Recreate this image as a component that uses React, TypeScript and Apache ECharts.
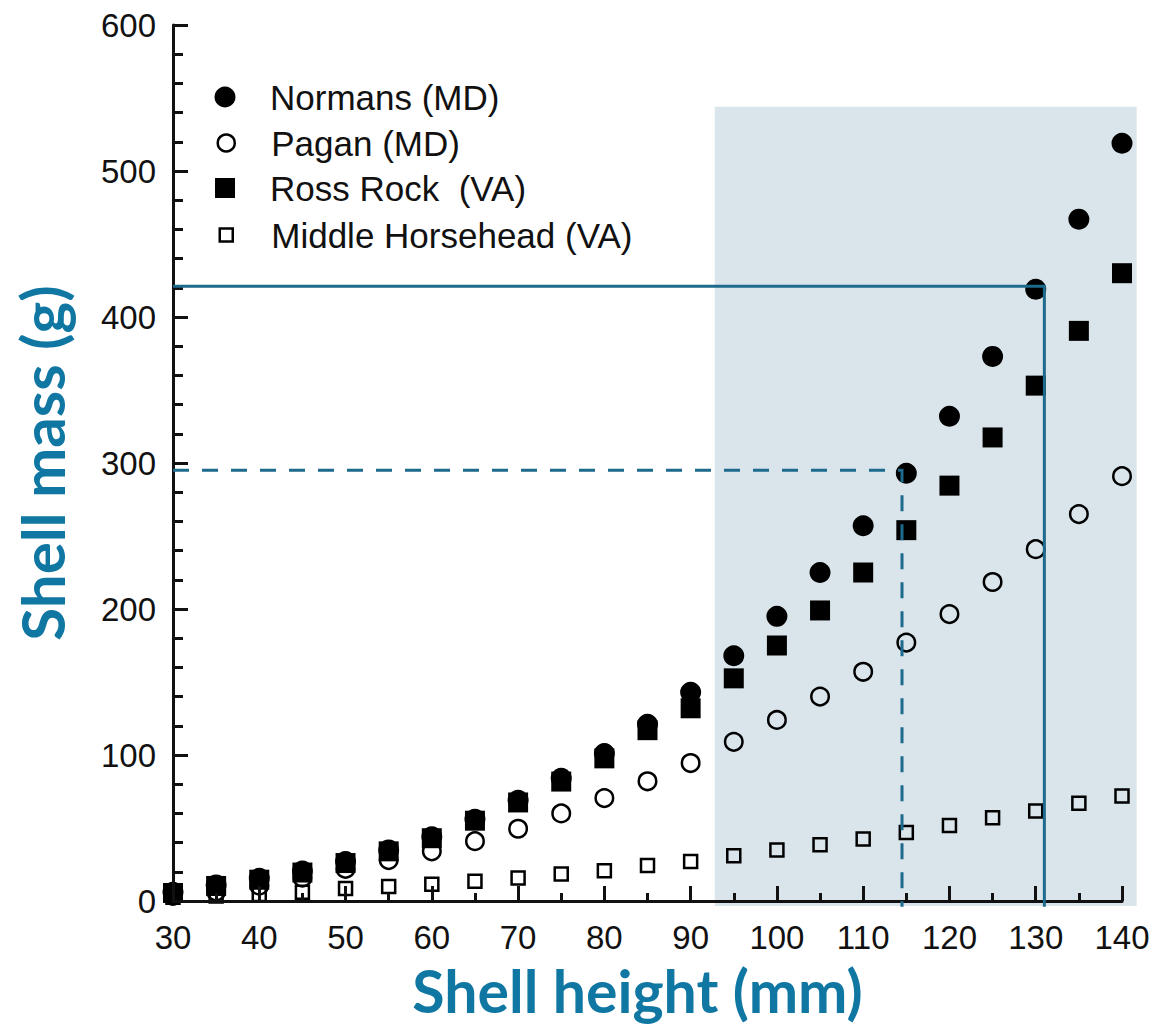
import React, { useEffect, useRef } from "react";
import * as echarts from "echarts";

// ---- data ----
const heights = [30, 35, 40, 45, 50, 55, 60, 65, 70, 75, 80, 85, 90, 95, 100, 105, 110, 115, 120, 125, 130, 135, 140];
const normans = [6, 11, 15.5, 20.5, 27, 35, 44, 56, 69, 84, 101, 121, 143, 168, 195, 225, 257, 293, 332, 373, 419, 467, 519];
const pagan = [3.5, 6.5, 10.5, 16, 22, 28, 34, 41, 49.5, 60, 70.5, 82, 94.5, 109, 124, 140, 157, 177, 196.5, 218.5, 241, 265, 291];
const rossRock = [5.5, 10.3, 14.6, 19.5, 26, 34, 43, 55, 67.5, 81.8, 97.7, 117, 132, 152.5, 175, 199, 225, 254, 284.5, 317.5, 353, 390.5, 430];
const middleHorsehead = [2.5, 3.5, 4.5, 6, 8.5, 10, 11.5, 13.5, 15.7, 18.5, 20.7, 24.3, 27, 31, 35, 38.5, 42.5, 47, 51.7, 57, 61.7, 67, 72];

const seriesNames = ["Normans (MD)", "Pagan (MD)", "Ross Rock  (VA)", "Middle Horsehead (VA)"];

const xRange = [30, 140];
const xStep = 10;
const yRange = [0, 600];
const yStep = 100;

// guide lines (x, y pairs)
const solidGuide = [[30, 421], [131, 421], [131, -4]];
const dashedGuide = [[30, 295], [114.5, 295], [114.5, -4]];
// shaded band
const shadeX = [92.8, 141.7];
const shadeY = [-3.5, 544];

const toPairs = (ys: number[]) => heights.map((h, i) => [h, ys[i]]);

export default function App() {
  const ref = useRef<HTMLDivElement>(null);

  useEffect(() => {
    if (!ref.current) return;
    const chart = echarts.init(ref.current, undefined, { renderer: "svg" });
    const ink = "#111111";
    const guide = "#1d6a8c";
    const titleColor = "#1077a3";
    const mark = "#000000";
    const legendFont = 35;

    const legendItem = (i: number, icon: string, size: number, cy: number, itemStyle: any) => ({
      show: true,
      orient: "vertical",
      left: 225 - size / 2,
      top: cy - legendFont / 2,
      padding: 0,
      itemWidth: size,
      itemHeight: size,
      selectedMode: false,
      data: [{ name: seriesNames[i], icon, itemStyle: { opacity: 1, ...itemStyle } }],
      textStyle: {
        fontFamily: "Liberation Sans, Arial, sans-serif",
        fontSize: legendFont,
        color: ink,
        padding: [0, 0, 0, 40 - size / 2],
      },
    });

    chart.setOption({
      animation: false,
      backgroundColor: "#ffffff",
      grid: { left: 173, right: 34, top: 25, bottom: 122, containLabel: false },
      legend: [
        legendItem(0, "circle", 21, 97, { color: mark, borderWidth: 0 }),
        legendItem(1, "circle", 17, 143, { color: "#ffffff", borderColor: mark, borderWidth: 2.5 }),
        legendItem(2, "rect", 20, 188, { color: mark, borderWidth: 0 }),
        legendItem(3, "rect", 13, 235, { color: "#ffffff", borderColor: mark, borderWidth: 2.5 }),
      ],
      xAxis: {
        type: "value",
        min: xRange[0],
        max: xRange[1],
        interval: xStep,
        z: 10,
        name: "Shell height (mm)",
        nameLocation: "middle",
        nameGap: 60,
        nameTextStyle: {
          fontFamily: "Lato, sans-serif",
          fontWeight: "bold",
          fontSize: 59,
          color: titleColor,
          padding: [0, 20, 0, 0],
        },
        axisLine: { show: true, onZero: false, lineStyle: { color: ink, width: 3 } },
        axisTick: { show: true, inside: true, length: 15, lineStyle: { color: ink, width: 3 } },
        minorTick: { show: true, splitNumber: 2, length: 8, lineStyle: { color: ink, width: 3 } },
        splitLine: { show: false },
        minorSplitLine: { show: false },
        axisLabel: { fontFamily: "Liberation Sans, Arial, sans-serif", fontSize: 33, color: ink, margin: 20 },
      },
      yAxis: {
        type: "value",
        min: yRange[0],
        max: yRange[1],
        interval: yStep,
        z: 10,
        name: "Shell mass (g)",
        nameLocation: "middle",
        nameGap: 101,
        nameRotate: 90,
        nameTextStyle: { fontFamily: "Lato, sans-serif", fontWeight: "bold", fontSize: 60, color: titleColor },
        axisLine: { show: true, onZero: false, lineStyle: { color: ink, width: 3 } },
        axisTick: { show: true, inside: true, length: 15, lineStyle: { color: ink, width: 3 } },
        minorTick: { show: true, splitNumber: 5, length: 10, lineStyle: { color: ink, width: 3 } },
        splitLine: { show: false },
        minorSplitLine: { show: false },
        axisLabel: { fontFamily: "Liberation Sans, Arial, sans-serif", fontSize: 33, color: ink, margin: 17 },
      },
      series: [
        {
          type: "custom",
          name: "shade",
          z: 1,
          silent: true,
          clip: false,
          data: [[shadeX[0], shadeY[0], shadeX[1], shadeY[1]]],
          encode: { x: [0, 2], y: [1, 3] },
          renderItem: (_params: any, api: any) => {
            const p1 = api.coord([api.value(0), api.value(3)]);
            const p2 = api.coord([api.value(2), api.value(1)]);
            return {
              type: "rect",
              shape: { x: p1[0], y: p1[1], width: p2[0] - p1[0], height: p2[1] - p1[1] },
              style: { fill: "#dae5eb" },
            };
          },
        },
        {
          type: "scatter",
          name: seriesNames[0],
          z: 3,
          symbol: "circle",
          symbolSize: 21,
          itemStyle: { color: mark, opacity: 1 },
          data: toPairs(normans),
        },
        {
          type: "scatter",
          name: seriesNames[1],
          z: 3,
          symbol: "circle",
          symbolSize: 17.5,
          itemStyle: { color: "rgba(0,0,0,0)", borderColor: mark, borderWidth: 2.5, opacity: 1 },
          data: toPairs(pagan),
        },
        {
          type: "scatter",
          name: seriesNames[3],
          z: 3,
          symbol: "rect",
          symbolSize: 13,
          itemStyle: { color: "rgba(0,0,0,0)", borderColor: mark, borderWidth: 2.5, opacity: 1 },
          data: toPairs(middleHorsehead),
        },
        {
          type: "scatter",
          name: seriesNames[2],
          z: 4,
          symbol: "rect",
          symbolSize: 20,
          itemStyle: { color: mark, opacity: 1 },
          data: toPairs(rossRock),
        },
        {
          type: "line",
          name: "guide-solid",
          z: 12,
          clip: false,
          silent: true,
          symbol: "none",
          lineStyle: { color: guide, width: 3, type: "solid", join: "miter" },
          data: solidGuide,
        },
        {
          type: "line",
          name: "guide-dashed",
          z: 12,
          clip: false,
          silent: true,
          symbol: "none",
          lineStyle: { color: guide, width: 3, type: [16, 13], join: "miter" },
          data: dashedGuide,
        },
      ],
    });

    return () => chart.dispose();
  }, []);

  return (
    <div
      ref={ref}
      style={{ position: "absolute", left: 0, top: 0, width: 1156, height: 1025, background: "#ffffff" }}
    />
  );
}
